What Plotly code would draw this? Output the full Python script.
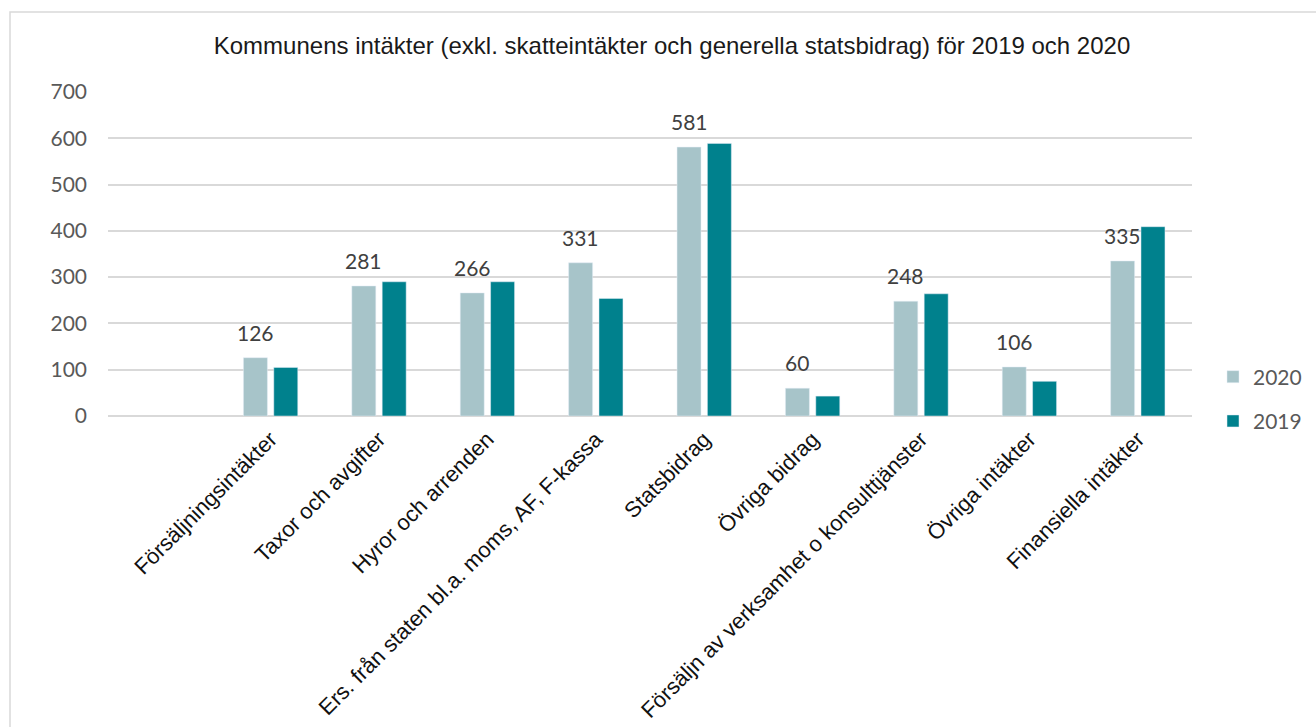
import plotly.graph_objects as go

categories = [" ", "Försäljningsintäkter", "Taxor och avgifter", "Hyror och arrenden",
              "Ers. från staten bl.a. moms, AF, F-kassa", "Statsbidrag", "Övriga bidrag",
              "Försäljn av verksamhet o konsulttjänster", "Övriga intäkter", "Finansiella intäkter"]
values_2020 = [None, 126, 281, 266, 331, 581, 60, 248, 106, 335]
values_2019 = [None, 105, 290, 290, 254, 589, 43, 264, 75, 409]
y_ticks = [0, 100, 200, 300, 400, 500, 600, 700]

fig = go.Figure()
fig.add_trace(go.Bar(
    x=categories, y=values_2020, name="2020", marker_color="#A7C4C9",
    legendgroup="a", hoverinfo="x+y"))
fig.add_trace(go.Bar(
    x=categories, y=values_2019, name="2019", marker_color="#00818D",
    legendgroup="b", hoverinfo="x+y"))

W, H = 1316, 727
L, R, T, B = 108, 1192, 92, 416
pw, ph = R - L, B - T
bargap, bargroupgap = 0.44, 0.21
slot_px = pw / len(categories) * (1 - bargap) / 2

annotations = []
for cat, v in zip(categories, values_2020):
    if v is None:
        continue
    annotations.append(dict(
        x=cat, y=v, xref="x", yref="y", text=str(v), showarrow=False,
        xanchor="center", yanchor="bottom", xshift=-slot_px / 2, yshift=11,
        font=dict(family="Lato, Open Sans, sans-serif", size=21, color="#404040")))

fig.update_layout(
    width=W, height=H,
    margin=dict(l=L, r=W - R, t=T, b=H - B, autoexpand=False),
    paper_bgcolor="white", plot_bgcolor="white",
    barmode="group", bargap=bargap, bargroupgap=bargroupgap,
    title=dict(text="Kommunens intäkter (exkl. skatteintäkter och generella statsbidrag) för 2019 och 2020",
               x=672 / W, xanchor="center", y=1 - 46 / H, yanchor="middle",
               font=dict(family="Liberation Sans, Arial, sans-serif", size=24, color="#1a1a1a")),
    legend=dict(x=(1213 - L) / pw, xanchor="left", y=(B - 399) / ph, yanchor="middle",
                tracegroupgap=14, bgcolor="rgba(0,0,0,0)",
                font=dict(family="Lato, Open Sans, sans-serif", size=21, color="#595959")),
    xaxis=dict(categoryorder="array", categoryarray=categories, tickangle=-45,
               showgrid=False, showline=False, ticks="", ticklabelstandoff=5,
               tickfont=dict(family="Liberation Sans, Arial, sans-serif", size=22, color="#111111")),
    yaxis=dict(range=[0, 700], tickvals=y_ticks, showgrid=True, gridcolor="#D9D9D9", gridwidth=1.5,
               zeroline=True, zerolinecolor="#D9D9D9", zerolinewidth=1.5, showline=False, ticks="",
               ticklabelstandoff=20,
               tickfont=dict(family="Lato, Open Sans, sans-serif", size=21, color="#595959")),
    annotations=annotations,
    shapes=[dict(type="rect", xref="paper", yref="paper",
                 x0=(10 - L) / pw, x1=(1330 - L) / pw, y0=(B - 740) / ph, y1=(B - 12) / ph,
                 line=dict(color="#D9D9D9", width=1.5), fillcolor="rgba(0,0,0,0)", layer="below")],
)

fig.write_html("out.html", config={"displayModeBar": False},
               post_script="document.body.style.margin='0';document.body.style.overflow='hidden';")
